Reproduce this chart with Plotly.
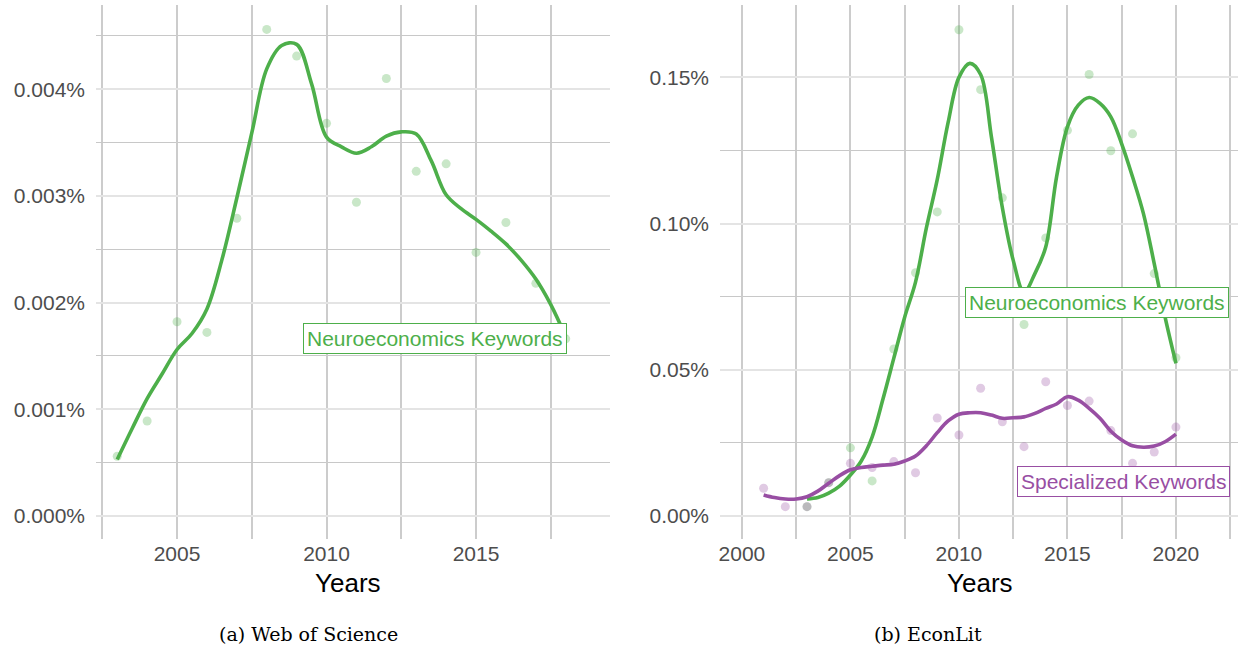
import plotly.graph_objects as go

GREEN = "#4daf4a"
PURPLE = "#984ea3"

# (a) Web of Science - yearly share (in %)
wos_years = [2003, 2004, 2005, 2006, 2007, 2008, 2009, 2010, 2011, 2012,
             2013, 2014, 2015, 2016, 2017, 2018]
wos_neuro = [0.00056, 0.00089, 0.00182, 0.00172, 0.00279, 0.00456, 0.00431, 0.00368,
             0.00294, 0.00410, 0.00323, 0.00330, 0.00247, 0.00275, 0.00218, 0.00166]

# smoothed trend
wos_fit_x = [2003, 2003.5, 2004, 2004.5, 2005, 2005.5, 2006, 2006.5, 2007, 2007.5,
             2008, 2008.5, 2009, 2009.5, 2010, 2010.5, 2011, 2011.5, 2012, 2012.5,
             2013, 2013.5, 2014, 2014.5, 2015, 2015.5, 2016, 2016.5, 2017, 2017.5, 2018]
wos_fit = [0.00053, 0.00082, 0.00110, 0.00133, 0.00156, 0.00171, 0.00194, 0.00240,
           0.00298, 0.00359, 0.00419, 0.00441, 0.00442, 0.00405, 0.00355, 0.00346,
           0.00340, 0.00346, 0.00356, 0.00360, 0.00358, 0.00333, 0.00301, 0.00288,
           0.00278, 0.00267, 0.00255, 0.00240, 0.00222, 0.00198, 0.00168]

# (b) EconLit
econ_years = [2001, 2002, 2003, 2004, 2005, 2006, 2007, 2008, 2009, 2010,
              2011, 2012, 2013, 2014, 2015, 2016, 2017, 2018, 2019, 2020]
econ_neuro_years = econ_years[2:]
econ_neuro = [0.0032, 0.0114, 0.0233, 0.0120, 0.0571, 0.0832, 0.1040, 0.1663, 0.1458,
              0.1088, 0.0655, 0.0951, 0.1319, 0.1510, 0.1249, 0.1307, 0.0829, 0.0541]
econ_spec = [0.0095, 0.0032, 0.0032, 0.0114, 0.0180, 0.0166, 0.0186, 0.0148, 0.0335,
             0.0277, 0.0437, 0.0322, 0.0237, 0.0459, 0.0378, 0.0393, 0.0292, 0.0180,
             0.0219, 0.0304]

econ_neuro_fit_x = [2003, 2003.5, 2004, 2004.5, 2005, 2005.5, 2006, 2006.5, 2007, 2007.5,
                    2008, 2008.5, 2009, 2009.5, 2010, 2010.5, 2011, 2011.5, 2012, 2012.5,
                    2013, 2013.5, 2014, 2014.5, 2015, 2015.5, 2016, 2016.5, 2017, 2017.5,
                    2018, 2018.5, 2019, 2019.5, 2020]
econ_neuro_fit = [0.0058, 0.0063, 0.0078, 0.0102, 0.0140, 0.0188, 0.0270, 0.0400, 0.0540,
                  0.0680, 0.0800, 0.0985, 0.1150, 0.1345, 0.1500, 0.1548, 0.1510, 0.1295,
                  0.1055, 0.0875, 0.0765, 0.0829, 0.0920, 0.1160, 0.1331, 0.1405, 0.1431,
                  0.1411, 0.1365, 0.1273, 0.1160, 0.1035, 0.0863, 0.0680, 0.0522]

econ_spec_fit_x = [2001, 2001.5, 2002, 2002.5, 2003, 2003.5, 2004, 2004.5, 2005, 2005.5,
                   2006, 2006.5, 2007, 2007.5, 2008, 2008.5, 2009, 2009.5, 2010, 2010.5,
                   2011, 2011.5, 2012, 2012.5, 2013, 2013.5, 2014, 2014.5, 2015, 2015.5,
                   2016, 2016.5, 2017, 2017.5, 2018, 2018.5, 2019, 2019.5, 2020]
econ_spec_fit = [0.0072, 0.0063, 0.0058, 0.0058, 0.0066, 0.0085, 0.0112, 0.0138, 0.0158,
                 0.0166, 0.0170, 0.0174, 0.0177, 0.0188, 0.0205, 0.0240, 0.0285, 0.0325,
                 0.0348, 0.0353, 0.0353, 0.0345, 0.0334, 0.0336, 0.0339, 0.0351, 0.0368,
                 0.0383, 0.0408, 0.0396, 0.0368, 0.0334, 0.0290, 0.0260, 0.0240, 0.0235,
                 0.0239, 0.0254, 0.0280]

fig = go.Figure()


def points(x, y, color, xa, ya):
    fig.add_trace(go.Scatter(x=x, y=y, mode="markers", xaxis=xa, yaxis=ya,
                             marker=dict(size=9, color=color, opacity=0.3),
                             hoverinfo="skip", showlegend=False))


def trend(x, y, color, xa, ya):
    fig.add_trace(go.Scatter(x=x, y=y, mode="lines", xaxis=xa, yaxis=ya,
                             line=dict(color=color, width=3.6, shape="spline", smoothing=1),
                             hoverinfo="skip", showlegend=False))


points(wos_years, wos_neuro, GREEN, "x", "y")
trend(wos_fit_x, wos_fit, GREEN, "x", "y")

points(econ_neuro_years, econ_neuro, GREEN, "x2", "y2")
points(econ_years, econ_spec, PURPLE, "x2", "y2")
trend(econ_neuro_fit_x, econ_neuro_fit, GREEN, "x2", "y2")
trend(econ_spec_fit_x, econ_spec_fit, PURPLE, "x2", "y2")

W, H = 1238, 649
SANS = "Liberation Sans, Arial, sans-serif"
tickfont = dict(family=SANS, size=21, color="#4d4d4d")
grid = "#cccccc"

xcommon = dict(showgrid=True, gridcolor=grid, gridwidth=1.6, zeroline=False,
               showline=False, ticks="", tickfont=tickfont, dtick=5,
               minor=dict(dtick=2.5, showgrid=True, gridcolor=grid, gridwidth=1.6))
ycommon = dict(showgrid=True, gridcolor="#e4e4e4", gridwidth=2, zeroline=False,
               showline=False, ticks="", tickfont=tickfont, ticksuffix="%",
               ticklabelstandoff=10)

fig.update_layout(
    width=W, height=H,
    margin=dict(l=0, r=0, t=0, b=0),
    paper_bgcolor="white", plot_bgcolor="white",
    xaxis=dict(xcommon, domain=[96 / W, 610 / W], range=[2002.29, 2019.48],
               tick0=2005, anchor="y"),
    yaxis=dict(ycommon, domain=[(H - 539) / H, (H - 5) / H], range=[-0.000216, 0.004789],
               dtick=0.001, tick0=0, tickformat=".3f", anchor="x",
               minor=dict(dtick=0.0005, showgrid=True, gridcolor="#c8c8c8", gridwidth=1.4)),
    xaxis2=dict(xcommon, domain=[720 / W, 1.0], range=[1998.99, 2022.86],
                tick0=2000, anchor="y2"),
    yaxis2=dict(ycommon, domain=[(H - 539) / H, (H - 5) / H], range=[-0.00787, 0.17476],
                dtick=0.05, tick0=0, tickformat=".2f", anchor="x2",
                minor=dict(dtick=0.025, showgrid=True, gridcolor="#c8c8c8", gridwidth=1.4)),
)

labfont = dict(family=SANS, size=21)
fig.add_annotation(x=2018.05, y=0.00166, xref="x", yref="y", xanchor="right", yanchor="middle",
                   text="Neuroeconomics Keywords", showarrow=False,
                   font=dict(labfont, color=GREEN), bgcolor="white",
                   bordercolor=GREEN, borderwidth=1, borderpad=3)
fig.add_annotation(x=2016.36, y=0.0731, xref="x2", yref="y2", xanchor="center", yanchor="middle",
                   text="Neuroeconomics Keywords", showarrow=False,
                   font=dict(labfont, color=GREEN), bgcolor="white",
                   bordercolor=GREEN, borderwidth=1, borderpad=3)
fig.add_annotation(x=2017.58, y=0.0118, xref="x2", yref="y2", xanchor="center", yanchor="middle",
                   text="Specialized Keywords", showarrow=False,
                   font=dict(labfont, color=PURPLE), bgcolor="white",
                   bordercolor=PURPLE, borderwidth=1, borderpad=3)

# axis titles and panel captions
for cx in [348, 980]:
    fig.add_annotation(x=cx / W, y=1 - 583 / H, xref="paper", yref="paper",
                       text="Years", showarrow=False, xanchor="center", yanchor="middle",
                       font=dict(family=SANS, size=26, color="black"))
for cx, cap in [(308, "(a) Web of Science"), (928, "(b) EconLit")]:
    fig.add_annotation(x=cx / W, y=1 - 634 / H, xref="paper", yref="paper",
                       text=cap, showarrow=False, xanchor="center", yanchor="middle",
                       font=dict(family="DejaVu Serif, Liberation Serif, serif", size=19, color="black"))

fig.write_html("out.html", config={"displayModeBar": False},
               post_script="document.body.style.margin='0';")
